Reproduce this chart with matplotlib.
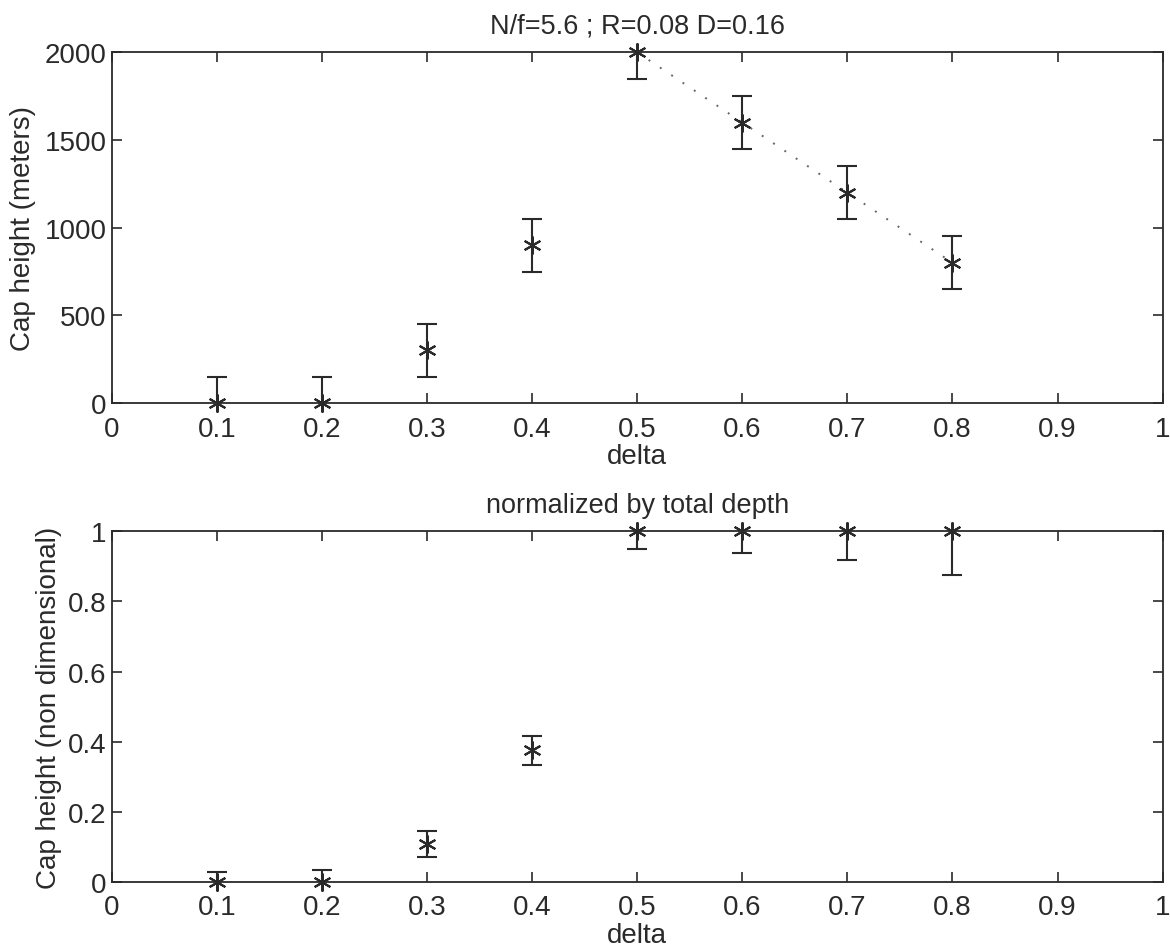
import matplotlib
matplotlib.use("Agg")
import matplotlib.pyplot as plt
import numpy as np

plt.rcParams["font.family"] = ["Liberation Sans", "DejaVu Sans"]

# ---- data ----
delta = [0.1, 0.2, 0.3, 0.4, 0.5, 0.6, 0.7, 0.8]
cap_m = [0, 0, 300, 900, 2000, 1600, 1200, 800]
cap_m_err = [150, 150, 150, 150, 150, 150, 150, 150]
# dotted fit drawn only over the decreasing part
fit_delta = [0.5, 0.6, 0.7, 0.8]
fit_cap = [2000, 1600, 1200, 800]

cap_nd = [0, 0, 0.108, 0.375, 1, 1, 1, 1]
cap_nd_err = [0.029, 0.033, 0.036, 0.042, 0.050, 0.062, 0.083, 0.125]

xticks = [0, 0.1, 0.2, 0.3, 0.4, 0.5, 0.6, 0.7, 0.8, 0.9, 1]
xtick_labels = ["0", "0.1", "0.2", "0.3", "0.4", "0.5", "0.6", "0.7", "0.8", "0.9", "1"]
yticks_top = [0, 500, 1000, 1500, 2000]
yticks_bot = [0, 0.2, 0.4, 0.6, 0.8, 1]
ytick_labels_bot = ["0", "0.2", "0.4", "0.6", "0.8", "1"]

INK = "#2a2a2a"
FS = 20
star = (6, 2, 0)  # six-armed asterisk, like the MATLAB '*'

fig = plt.figure(figsize=(11.7, 9.53), dpi=100)
ax1 = fig.add_axes([0.0957, 0.576, 0.898, 0.368])
ax2 = fig.add_axes([0.0957, 0.0735, 0.898, 0.368])


def style(ax):
    for sp in ax.spines.values():
        sp.set_color(INK)
        sp.set_linewidth(1.3)
    ax.tick_params(direction="in", length=7, width=1.2, color=INK, labelcolor=INK,
                   labelsize=FS, top=True, right=True)
    ax.tick_params(axis="x", pad=9)
    ax.tick_params(axis="y", pad=4)
    ax.set_xlim(0, 1)
    ax.set_xticks(xticks)
    ax.set_xticklabels(xtick_labels)


# top panel
ax1.plot(fit_delta, fit_cap, linestyle=(0, (1, 6)), color="#666666", lw=1.4)
ax1.errorbar(delta, cap_m, yerr=cap_m_err, fmt="none", ecolor=INK, elinewidth=1.5,
             capsize=7.5, capthick=1.5)
ax1.plot(delta, cap_m, linestyle="none", marker=star, ms=13, mew=1.5,
         color=INK, clip_on=False, zorder=5)
ax1.set_ylim(0, 2000)
ax1.set_yticks(yticks_top)
style(ax1)
ax1.set_title("N/f=5.6 ; R=0.08 D=0.16", fontsize=19.5, color=INK, pad=14)
ax1.set_xlabel("delta", fontsize=FS, color=INK, labelpad=1)
ax1.set_ylabel("Cap height (meters)", fontsize=FS, color=INK, labelpad=6)

# bottom panel
ax2.errorbar(delta, cap_nd, yerr=cap_nd_err, fmt="none", ecolor=INK, elinewidth=1.5,
             capsize=7.5, capthick=1.5)
ax2.plot(delta, cap_nd, linestyle="none", marker=star, ms=13, mew=1.5,
         color=INK, clip_on=False, zorder=5)
ax2.set_ylim(0, 1)
ax2.set_yticks(yticks_bot)
ax2.set_yticklabels(ytick_labels_bot)
style(ax2)
ax2.set_title("normalized by total depth", fontsize=19.5, color=INK, pad=14)
ax2.set_xlabel("delta", fontsize=FS, color=INK, labelpad=1)
ax2.set_ylabel("Cap height (non dimensional)", fontsize=FS, color=INK, labelpad=4)

fig.savefig("out.png", dpi=100)
plt.close(fig)
